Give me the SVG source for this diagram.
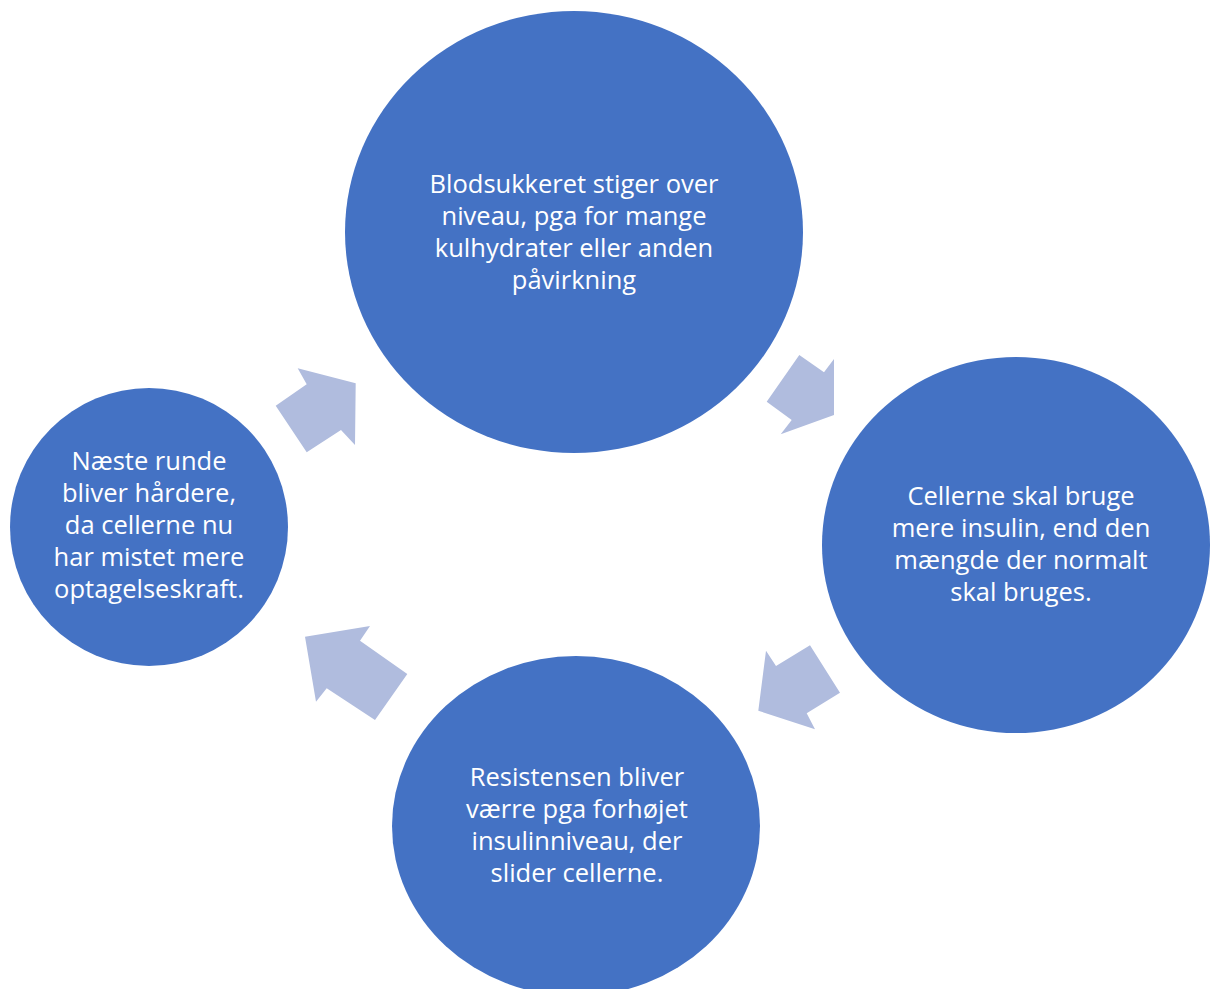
<svg xmlns="http://www.w3.org/2000/svg" width="1213" height="989" viewBox="0 0 1213 989">
<style>
.node{fill:#4472C4}
.arr{fill:#B0BCDE}
text{font-family:"Open Sans","Noto Sans","Liberation Sans",sans-serif;font-size:25.5px;fill:#FFFFFF;text-anchor:middle}
</style>
<rect width="1213" height="989" fill="#FFFFFF"/>
<g id="connectors">
<polygon class="arr" points="799.3,355 824,372.3 834,359 834,415 780.7,434.3 791.7,420 766.7,401.7"/>
<polygon class="arr" points="766,650.7 776,666 810,645.3 840,692.7 806.7,713.3 815,729.3 758.3,710.7"/>
<polygon class="arr" points="305,636.7 370,626 360,640.7 407.3,674 375,720 326.7,688.3 316,701.7"/>
<polygon class="arr" points="297.7,368.3 355.7,383.3 355,445 341,430 306.7,452.3 275.7,405.7 306.7,384.3"/>
</g>
<g id="node-top">
<ellipse class="node" cx="574" cy="232" rx="229" ry="221"/>
<text x="574" y="193">Blodsukkeret stiger over</text>
<text x="574" y="225">niveau, pga for mange</text>
<text x="574" y="257">kulhydrater eller anden</text>
<text x="574" y="289">påvirkning</text>
</g>
<g id="node-right">
<ellipse class="node" cx="1016" cy="545" rx="194" ry="188"/>
<text x="1021" y="505">Cellerne skal bruge</text>
<text x="1021" y="537">mere insulin, end den</text>
<text x="1021" y="569">mængde der normalt</text>
<text x="1021" y="601">skal bruges.</text>
</g>
<g id="node-bottom">
<ellipse class="node" cx="576" cy="826" rx="184" ry="170"/>
<text x="577" y="786">Resistensen bliver</text>
<text x="577" y="818">værre pga forhøjet</text>
<text x="577" y="850">insulinniveau, der</text>
<text x="577" y="882">slider cellerne.</text>
</g>
<g id="node-left">
<ellipse class="node" cx="149" cy="527" rx="139" ry="139"/>
<text x="149" y="470">Næste runde</text>
<text x="149" y="502">bliver hårdere,</text>
<text x="149" y="534">da cellerne nu</text>
<text x="149" y="566">har mistet mere</text>
<text x="149" y="598">optagelseskraft.</text>
</g>
</svg>
